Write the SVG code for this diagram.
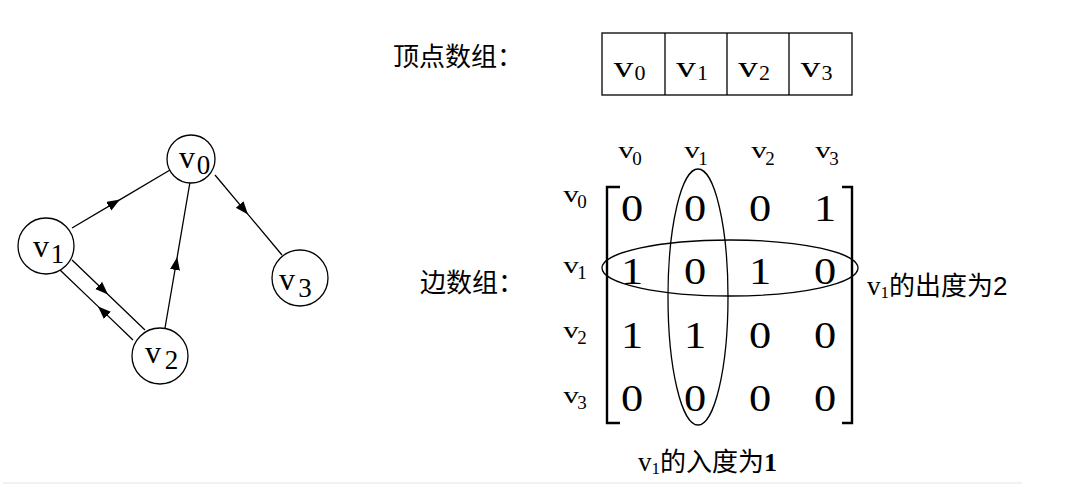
<svg xmlns="http://www.w3.org/2000/svg" width="1068" height="487" viewBox="0 0 1068 487">
<style>
text { font-family: "Liberation Serif", "Times New Roman", serif; fill: #000; }
.cjk { font-family: "Noto Sans CJK SC", "Noto Sans", sans-serif; font-size: 26px; }
.sx { transform-box: fill-box; transform-origin: center; }
.gv { font-size: 32px; text-anchor: middle; }
.gs { font-size: 27px; text-anchor: middle; }
.av { font-size: 30px; text-anchor: middle; transform: scaleX(1.3); }
.as { font-size: 22px; text-anchor: middle; }
.hv { font-size: 23px; text-anchor: middle; transform: scaleX(1.35); }
.hs { font-size: 19px; text-anchor: middle; }
.dg { font-size: 37px; text-anchor: middle; transform: scaleX(1.2); }
.node circle { fill: #fff; stroke: #000; stroke-width: 1.3; }
.edge { fill: none; stroke: #000; stroke-width: 1.3; marker-mid: url(#arr); }
.box { fill: #fff; stroke: #000; stroke-width: 1.3; }
.br { fill: none; stroke: #000; stroke-width: 2.4; }
.ell { fill: none; stroke: #000; stroke-width: 1.3; }
</style>
<defs>
<marker id="arr" markerUnits="userSpaceOnUse" markerWidth="15" markerHeight="11" refX="13" refY="5" orient="auto">
<path d="M0,0 L13,5 L0,10 Z" fill="#000"/>
</marker>
</defs>
<rect width="1068" height="487" fill="#fff"/>

<g id="connectors">
<path class="edge" d="M72,228 L120,199.6 L170,170"/>
<path class="edge" d="M215,175 L248,214.4 L282,255"/>
<path class="edge" d="M165,328 L177.2,257 L190,182"/>
<path class="edge" d="M72,260 L108,294.5 L145,330"/>
<path class="edge" d="M133,340 L98,306.4 L60,270"/>
</g>

<g id="node-v0" class="node">
<circle cx="191" cy="159" r="24"/>
<text class="gv" x="187" y="168">v</text><text class="gs" x="203.5" y="174">0</text>
</g>
<g id="node-v1" class="node">
<circle cx="46" cy="246" r="28"/>
<text class="gv" x="41" y="257">v</text><text class="gs" x="57.5" y="263">1</text>
</g>
<g id="node-v2" class="node">
<circle cx="160" cy="356" r="28"/>
<text class="gv" x="153" y="363">v</text><text class="gs" x="171.5" y="369">2</text>
</g>
<g id="node-v3" class="node">
<circle cx="300" cy="278" r="28"/>
<text class="gv" x="287" y="290">v</text><text class="gs" x="305" y="297">3</text>
</g>

<g id="vertex-array">
<text class="cjk" x="393" y="66">顶点数组：</text>
<rect class="box" x="602" y="33" width="250" height="62"/>
<line class="box" x1="665" y1="33" x2="665" y2="95"/>
<line class="box" x1="727" y1="33" x2="727" y2="95"/>
<line class="box" x1="789" y1="33" x2="789" y2="95"/>
<text class="av sx" x="623.5" y="77">v</text><text class="as" x="640" y="80">0</text>
<text class="av sx" x="686" y="77">v</text><text class="as" x="702.5" y="80">1</text>
<text class="av sx" x="748" y="77">v</text><text class="as" x="764.5" y="80">2</text>
<text class="av sx" x="810.5" y="77">v</text><text class="as" x="827" y="80">3</text>
</g>

<g id="edge-array">
<text class="cjk" x="420" y="292">边数组：</text>
<text class="hv sx" x="626" y="158">v</text><text class="hs" x="637" y="165">0</text>
<text class="hv sx" x="692" y="158">v</text><text class="hs" x="703" y="165">1</text>
<text class="hv sx" x="759" y="158">v</text><text class="hs" x="770" y="165">2</text>
<text class="hv sx" x="823" y="158">v</text><text class="hs" x="834" y="165">3</text>

<text class="hv sx" x="571" y="202">v</text><text class="hs" x="582" y="208">0</text>
<text class="hv sx" x="571" y="273">v</text><text class="hs" x="582" y="279">1</text>
<text class="hv sx" x="571" y="338">v</text><text class="hs" x="582" y="344">2</text>
<text class="hv sx" x="571" y="403">v</text><text class="hs" x="582" y="409">3</text>

<path class="br" d="M620,187 L607,187 L607,423 L620,423"/>
<path class="br" d="M842,187 L852,187 L852,423 L842,423"/>

<text class="dg sx" x="632" y="221">0</text><text class="dg sx" x="695" y="221">0</text><text class="dg sx" x="760" y="221">0</text><text class="dg sx" x="825" y="221">1</text>
<text class="dg sx" x="632" y="284">1</text><text class="dg sx" x="695" y="284">0</text><text class="dg sx" x="760" y="284">1</text><text class="dg sx" x="825" y="284">0</text>
<text class="dg sx" x="632" y="348">1</text><text class="dg sx" x="695" y="348">1</text><text class="dg sx" x="760" y="348">0</text><text class="dg sx" x="825" y="348">0</text>
<text class="dg sx" x="632" y="411">0</text><text class="dg sx" x="695" y="411">0</text><text class="dg sx" x="760" y="411">0</text><text class="dg sx" x="825" y="411">0</text>

<ellipse class="ell" cx="730" cy="268" rx="128" ry="28"/>
<ellipse class="ell" cx="698" cy="297" rx="30" ry="128"/>

<text x="867" y="295" font-size="27"><tspan>v</tspan><tspan font-size="17" dy="3">1</tspan><tspan class="cjk" dy="-3" font-size="26">的出度为</tspan><tspan font-family="Liberation Sans, sans-serif" font-size="26">2</tspan></text>
<text x="638" y="471" font-size="27"><tspan>v</tspan><tspan font-size="17" dy="3">1</tspan><tspan class="cjk" dy="-3" font-size="26">的入度为</tspan><tspan font-weight="bold" font-size="26">1</tspan></text>
</g>

<line x1="3" y1="483" x2="1022" y2="483" stroke="#eef1f5" stroke-width="2"/>
</svg>
